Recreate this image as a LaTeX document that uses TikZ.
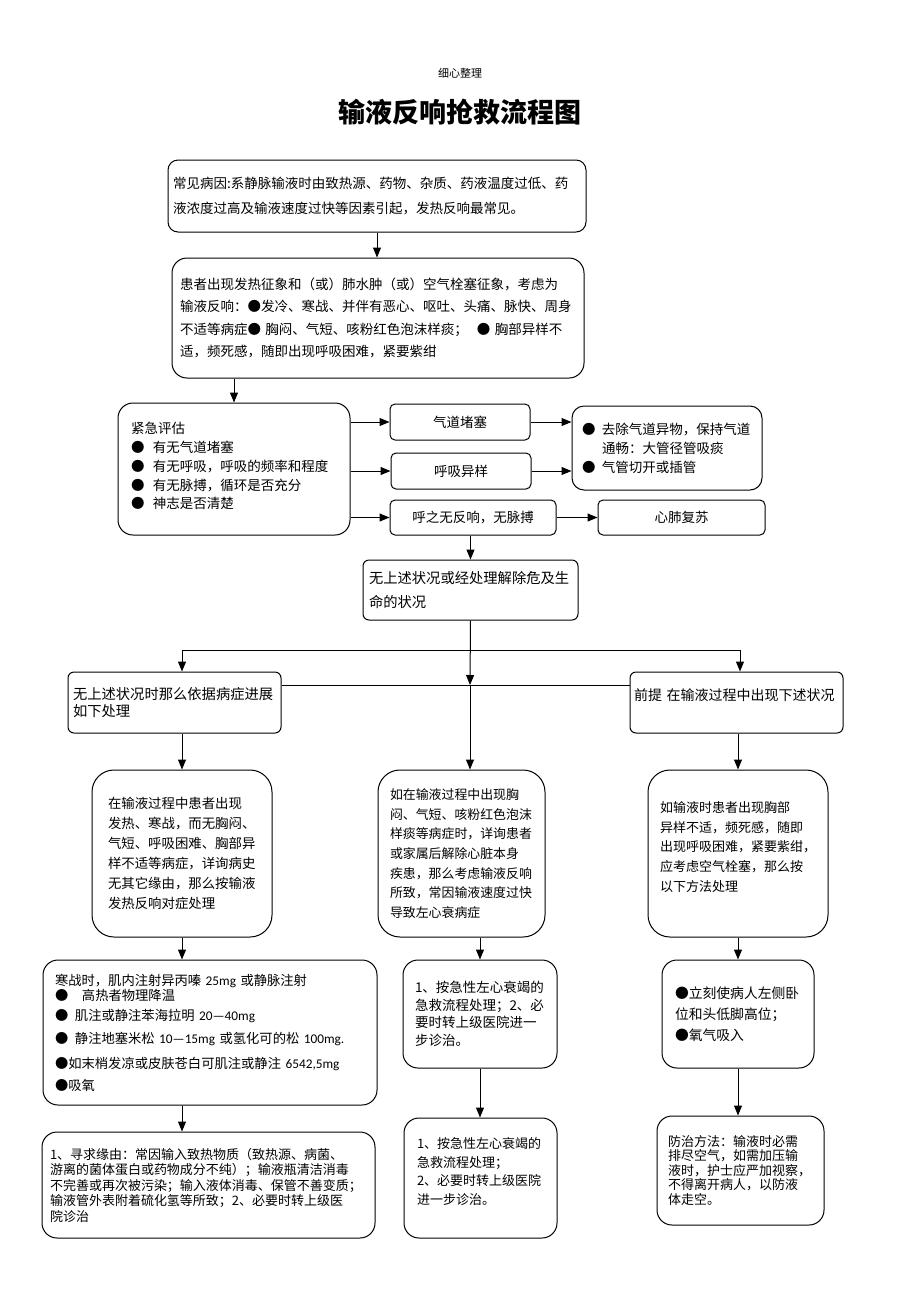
\documentclass[tikz,border=0pt]{standalone}
\usepackage{fontspec}
\setmainfont{Noto Sans CJK SC}
\newfontfamily\lat{Carlito}
\usetikzlibrary{arrows.meta}
\newcommand{\bul}[1][20pt]{\makebox[#1][l]{●}}
\newcommand{\fs}[2]{\fontsize{#1}{#2}\selectfont}
\tikzset{
  box/.style={draw, line width=1pt, rounded corners=12pt, align=left, inner ysep=0pt},
  tag/.style={draw, line width=1pt, rounded corners=5pt, align=center, font=\fs{13.5}{16}},
  tall/.style={box, rounded corners=22pt, minimum height=167pt}
}

\begin{document}
\begin{tikzpicture}[x=1pt, y=-1pt, >={Triangle[length=10pt,width=8pt]}]
  \useasboundingbox (0,0) rectangle (920,1302);
  \node (hdr) at (460,73) {\fs{11}{11}细心整理};
  \node (title) at (460,112) {\fs{27}{27}\bfseries 输液反响抢救流程图};

  \node[box, rounded corners=10pt, text width=408pt, inner xsep=5pt, minimum height=72pt, font=\fs{13.5}{25}] (cause) at (377,196)
    {常见病因:系静脉输液时由致热源、药物、杂质、药液温度过低、药\\液浓度过高及输液速度过快等因素引起，发热反响最常见。};
  \node[box, rounded corners=15pt, text width=396pt, inner xsep=8pt, minimum height=120pt, font=\fs{13.5}{22.5}] (sign) at (378,318)
    {患者出现发热征象和（或）肺水肿（或）空气栓塞征象，考虑为\\
     输液反响：●发冷、寒战、并伴有恶心、呕吐、头痛、脉快、周身\\
     不适等病症● 胸闷、气短、咳粉红色泡沫样痰；\ \ ● 胸部异样不\\
     适，频死感，随即出现呼吸困难，紧要紫绀};
  \node[box, rounded corners=15pt, text width=206pt, inner xsep=13pt, minimum height=132pt, font=\fs{13.5}{18.7}] (assess) at (234,469)
    {紧急评估\\ \bul[22pt]有无气道堵塞\\ \bul[22pt]有无呼吸，呼吸的频率和程度\\
     \bul[22pt]有无脉搏，循环是否充分\\ \bul[22pt]神志是否清楚\\[-12pt]\mbox{}};

  \node[tag, minimum width=140pt, minimum height=36pt] (airway) at (460,422) {气道堵塞};
  \node[tag, minimum width=140pt, minimum height=36pt] (breath) at (461,471) {呼吸异样};
  \node[tag, minimum width=166pt, minimum height=35pt] (nopulse) at (473,517.5) {呼之无反响，无脉搏};
  \node[box, text width=170pt, inner xsep=10pt, minimum height=84pt, font=\fs{13.5}{19}] (clear) at (667,448)
    {\bul 去除气道异物，保持气道\\ \hspace*{20pt}通畅：大管径管吸痰\\ \bul 气管切开或插管};
  \node[tag, minimum width=167pt, minimum height=35pt] (cpr) at (681.5,517.5) {心肺复苏};

  \node[box, rounded corners=6pt, text width=203pt, inner xsep=6pt, minimum height=60pt, font=\fs{14.3}{24}] (stable) at (470.5,590)
    {无上述状况或经处理解除危及生\\命的状况};
  \node[box, rounded corners=6pt, text width=203pt, inner xsep=5pt, minimum height=61pt, font=\fs{14.3}{16.5}] (other) at (174.5,702.5)
    {无上述状况时那么依据病症进展\\如下处理};
  \node[box, rounded corners=6pt, text width=205pt, inner xsep=4pt, minimum height=61pt, font=\fs{14}{16.5}] (during) at (736.5,702.5)
    {前提 在输液过程中出现下述状况\\ \mbox{}};

  \node[tall, text width=148pt, inner xsep=16pt, font=\fs{13.4}{20}] (fever) at (182,853.5)
    {在输液过程中患者出现\\发热、寒战，而无胸闷、\\气短、呼吸困难、胸部异\\样不适等病症，详询病史\\无其它缘由，那么按输液\\发热反响对症处理};
  \node[tall, text width=143pt, inner xsep=12pt, font=\fs{12.9}{19.7}] (heart) at (461.5,853.5)
    {如在输液过程中出现胸\\闷、气短、咳粉红色泡沫\\样痰等病症时，详询患者\\或家属后解除心脏本身\\疾患，那么考虑输液反响\\所致，常因输液速度过快\\导致左心衰病症};
  \node[tall, text width=156pt, inner xsep=12pt, font=\fs{13}{19.8}] (air) at (738,853.5)
    {如输液时患者出现胸部\\异样不适，频死感，随即\\出现呼吸困难，紧要紫绀，\\应考虑空气栓塞，那么按\\以下方法处理\\[-5.8pt]\mbox{}};

  \node[box, rounded corners=15pt, text width=310pt, inner xsep=12pt, minimum height=145pt, font=\fs{13.3}{15}] (treat) at (210,1032.5)
    {寒战时，肌内注射异丙嗪 {\lat 25mg} 或静脉注射\\
     \bul[27pt]高热者物理降温\\[5pt]
     \bul 肌注或静注苯海拉明 {\lat 20—40mg}\\[8pt]
     \bul 静注地塞米松 {\lat 10—15mg} 或氢化可的松 {\lat 100mg.}\\[10pt]
     ●如末梢发凉或皮肤苍白可肌注或静注 {\lat 6542,5mg}\\[7pt]
     ●吸氧};
  \node[box, rounded corners=15pt, text width=317pt, inner xsep=8pt, minimum height=106pt, font=\fs{13}{15.5}] (cause2) at (208.5,1185)
    {1、寻求缘由：常因输入致热物质（致热源、病菌、\\游离的菌体蛋白或药物成分不纯）；输液瓶清洁消毒\\
     不完善或再次被污染；输入液体消毒、保管不善变质；\\输液管外表附着硫化氢等所致；2、必要时转上级医\\院诊治};

  \node[box, rounded corners=15pt, text width=130pt, inner xsep=12pt, minimum height=108pt, font=\fs{13.5}{17.5}] (heart2) at (480,1014)
    {1、按急性左心衰竭的\\急救流程处理；2、必\\要时转上级医院进一\\步诊治。};
  \node[box, rounded corners=15pt, text width=127pt, inner xsep=13pt, minimum height=120pt, font=\fs{13}{18.7}] (heart3) at (480.5,1178)
    {1、按急性左心衰竭的\\急救流程处理；\\2、必要时转上级医院\\进一步诊治。\\[-4.7pt]\mbox{}};
  \node[box, rounded corners=15pt, text width=126pt, inner xsep=13pt, minimum height=108pt, font=\fs{13.8}{21}] (air2) at (738,1014)
    {●立刻使病人左侧卧\\位和头低脚高位；\\●氧气吸入};
  \node[box, rounded corners=15pt, text width=145pt, inner xsep=11pt, minimum height=109pt, font=\fs{13}{14.5}] (prevent) at (740.5,1170.5)
    {防治方法：输液时必需\\排尽空气，如需加压输\\液时，护士应严加视察，\\不得离开病人，以防液\\体走空。};

  \coordinate (jl) at (182,650);
  \coordinate (kr) at (740,650);
  \coordinate (mid) at (470,685);

  \draw[line width=1pt] (jl) -- (kr);
  \draw[line width=1pt] (other.east |- mid) -- (during.west |- mid);
  \path[->, line width=1pt]
  (cause.south) edge (cause.south |- sign.north)
  (assess.north |- sign.south) edge (assess.north)
  (assess.east |- airway.west) edge (airway.west)
  (assess.east |- breath.west) edge (breath.west)
  (assess.east |- nopulse.west) edge (nopulse.west)
  (airway.east) edge (clear.west |- airway.east)
  (breath.east) edge (clear.west |- breath.east)
  (nopulse.east) edge (cpr.west)
  (stable.north |- nopulse.south) edge (stable.north)
  (stable.south) edge (mid)
  (mid) edge (mid |- heart.north)
  (jl) edge (jl |- other.north)
  (kr) edge (kr |- during.north)
  (fever.north |- other.south) edge (fever.north)
  (air.north |- during.south) edge (air.north)
  (fever.south) edge (fever.south |- treat.north)
  (fever.south |- treat.south) edge (fever.south |- cause2.north)
  (heart2.north |- heart.south) edge (heart2.north)
  (heart2.south) edge (heart2.south |- heart3.north)
  (air.south) edge (air.south |- air2.north)
  (air.south |- air2.south) edge (air.south |- prevent.north);
\end{tikzpicture}
\end{document}
